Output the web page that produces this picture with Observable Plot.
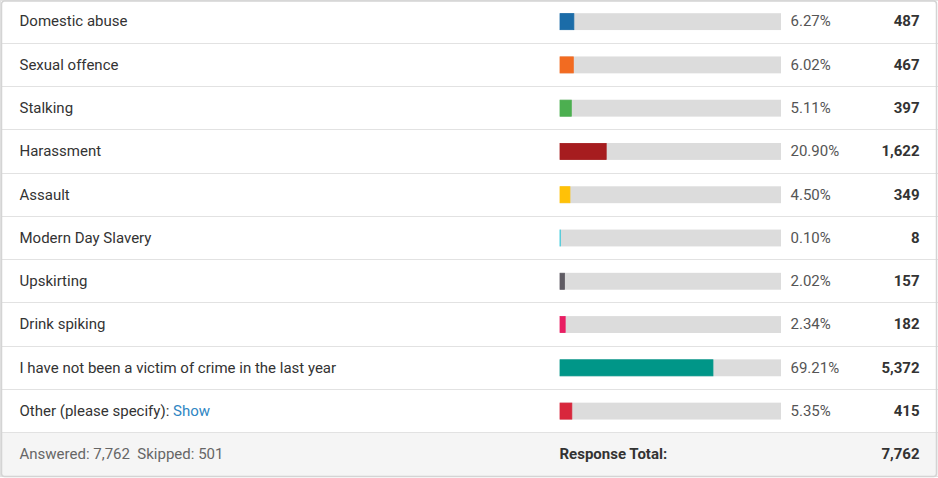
<!DOCTYPE html>
<html>
<head>
<meta charset="utf-8">
<script src="https://cdn.jsdelivr.net/npm/d3@7"></script>
<script src="https://cdn.jsdelivr.net/npm/@observablehq/plot@0.6"></script>
<style>
  html, body { margin: 0; padding: 0; background: #fff; }
</style>
</head>
<body>
<div id="chart"></div>
<script>
const labels = [
  "Domestic abuse",
  "Sexual offence",
  "Stalking",
  "Harassment",
  "Assault",
  "Modern Day Slavery",
  "Upskirting",
  "Drink spiking",
  "I have not been a victim of crime in the last year",
  "Other (please specify):"
];
const percents = [6.27, 6.02, 5.11, 20.90, 4.50, 0.10, 2.02, 2.34, 69.21, 5.35];
const counts = [487, 467, 397, 1622, 349, 8, 157, 182, 5372, 415];
const colors = ["#1b6ca8", "#f26b21", "#4caf50", "#a61c1f", "#ffc107", "#26c6da", "#5f5b63", "#e91e63", "#009688", "#d8273c"];
const answered = 7762;
const skipped = 501;
const responseTotal = 7762;

const fmt = d3.format(",");
const rows = labels.map((label, i) => ({row: i, label, pct: percents[i], count: counts[i], color: colors[i]}));
const footerRow = labels.length;
const allRows = [...rows, {row: footerRow}];

const svg = Plot.plot({
  width: 938,
  height: 478,
  margin: 0,
  x: {domain: [0, 100], range: [560, 781], axis: null},
  y: {type: "band", domain: d3.range(labels.length + 1), range: [0, 476], padding: 0, round: false, axis: null},
  color: {type: "identity"},
  style: {fontFamily: "Roboto, 'Noto Sans', sans-serif", fontSize: "15px", background: "#fff", overflow: "visible"},
  marks: [
    Plot.cell(allRows, {y: "row", fill: d => d.row === footerRow ? "#f5f5f5" : "#ffffff", stroke: "#e2e2e2", strokeWidth: 1, shapeRendering: "crispEdges"}),
    Plot.barX(rows, {y: "row", x1: 0, x2: 100, fill: "#dcdcdc", insetTop: 13.2, insetBottom: 13.2}),
    Plot.barX(rows, {y: "row", x1: 0, x2: "pct", fill: "color", stroke: "color", strokeWidth: 0.8, insetTop: 13.6, insetBottom: 13.6}),
    Plot.text(rows, {y: "row", text: "label", frameAnchor: "left", dx: 19, dy: -0.5, textAnchor: "start", fill: "#333"}),
    Plot.text(rows, {y: "row", x: () => 100, text: d => d.pct.toFixed(2) + "%", dx: 9, dy: -0.5, textAnchor: "start", fill: "#555"}),
    Plot.text(rows, {y: "row", text: d => fmt(d.count), frameAnchor: "right", dx: -19, dy: -0.5, textAnchor: "end", fill: "#333", fontWeight: "bold"}),
    Plot.text([{row: footerRow}], {y: "row", text: () => `Answered: ${fmt(answered)}\u00a0 Skipped: ${fmt(skipped)}`, frameAnchor: "left", dx: 19, dy: -0.5, textAnchor: "start", fill: "#666"}),
    Plot.text([{row: footerRow}], {y: "row", x: () => 0, text: () => "Response Total:", dx: -1, dy: -0.5, textAnchor: "start", fill: "#333", fontWeight: "bold"}),
    Plot.text([{row: footerRow}], {y: "row", text: () => fmt(responseTotal), frameAnchor: "right", dx: -19, dy: -0.5, textAnchor: "end", fill: "#333", fontWeight: "bold"}),
    Plot.frame({stroke: "#d4d4d4", strokeWidth: 1.5, insetLeft: 1, insetRight: 2, insetTop: 0.5, insetBottom: 2, rx: 3})
  ]
});

d3.select(svg).selectAll("text")
  .filter(function() { return this.textContent === "Other (please specify):"; })
  .append("tspan").attr("fill", "#2f86c3").text("\u00a0Show");

document.getElementById("chart").appendChild(svg);
</script>
</body>
</html>
